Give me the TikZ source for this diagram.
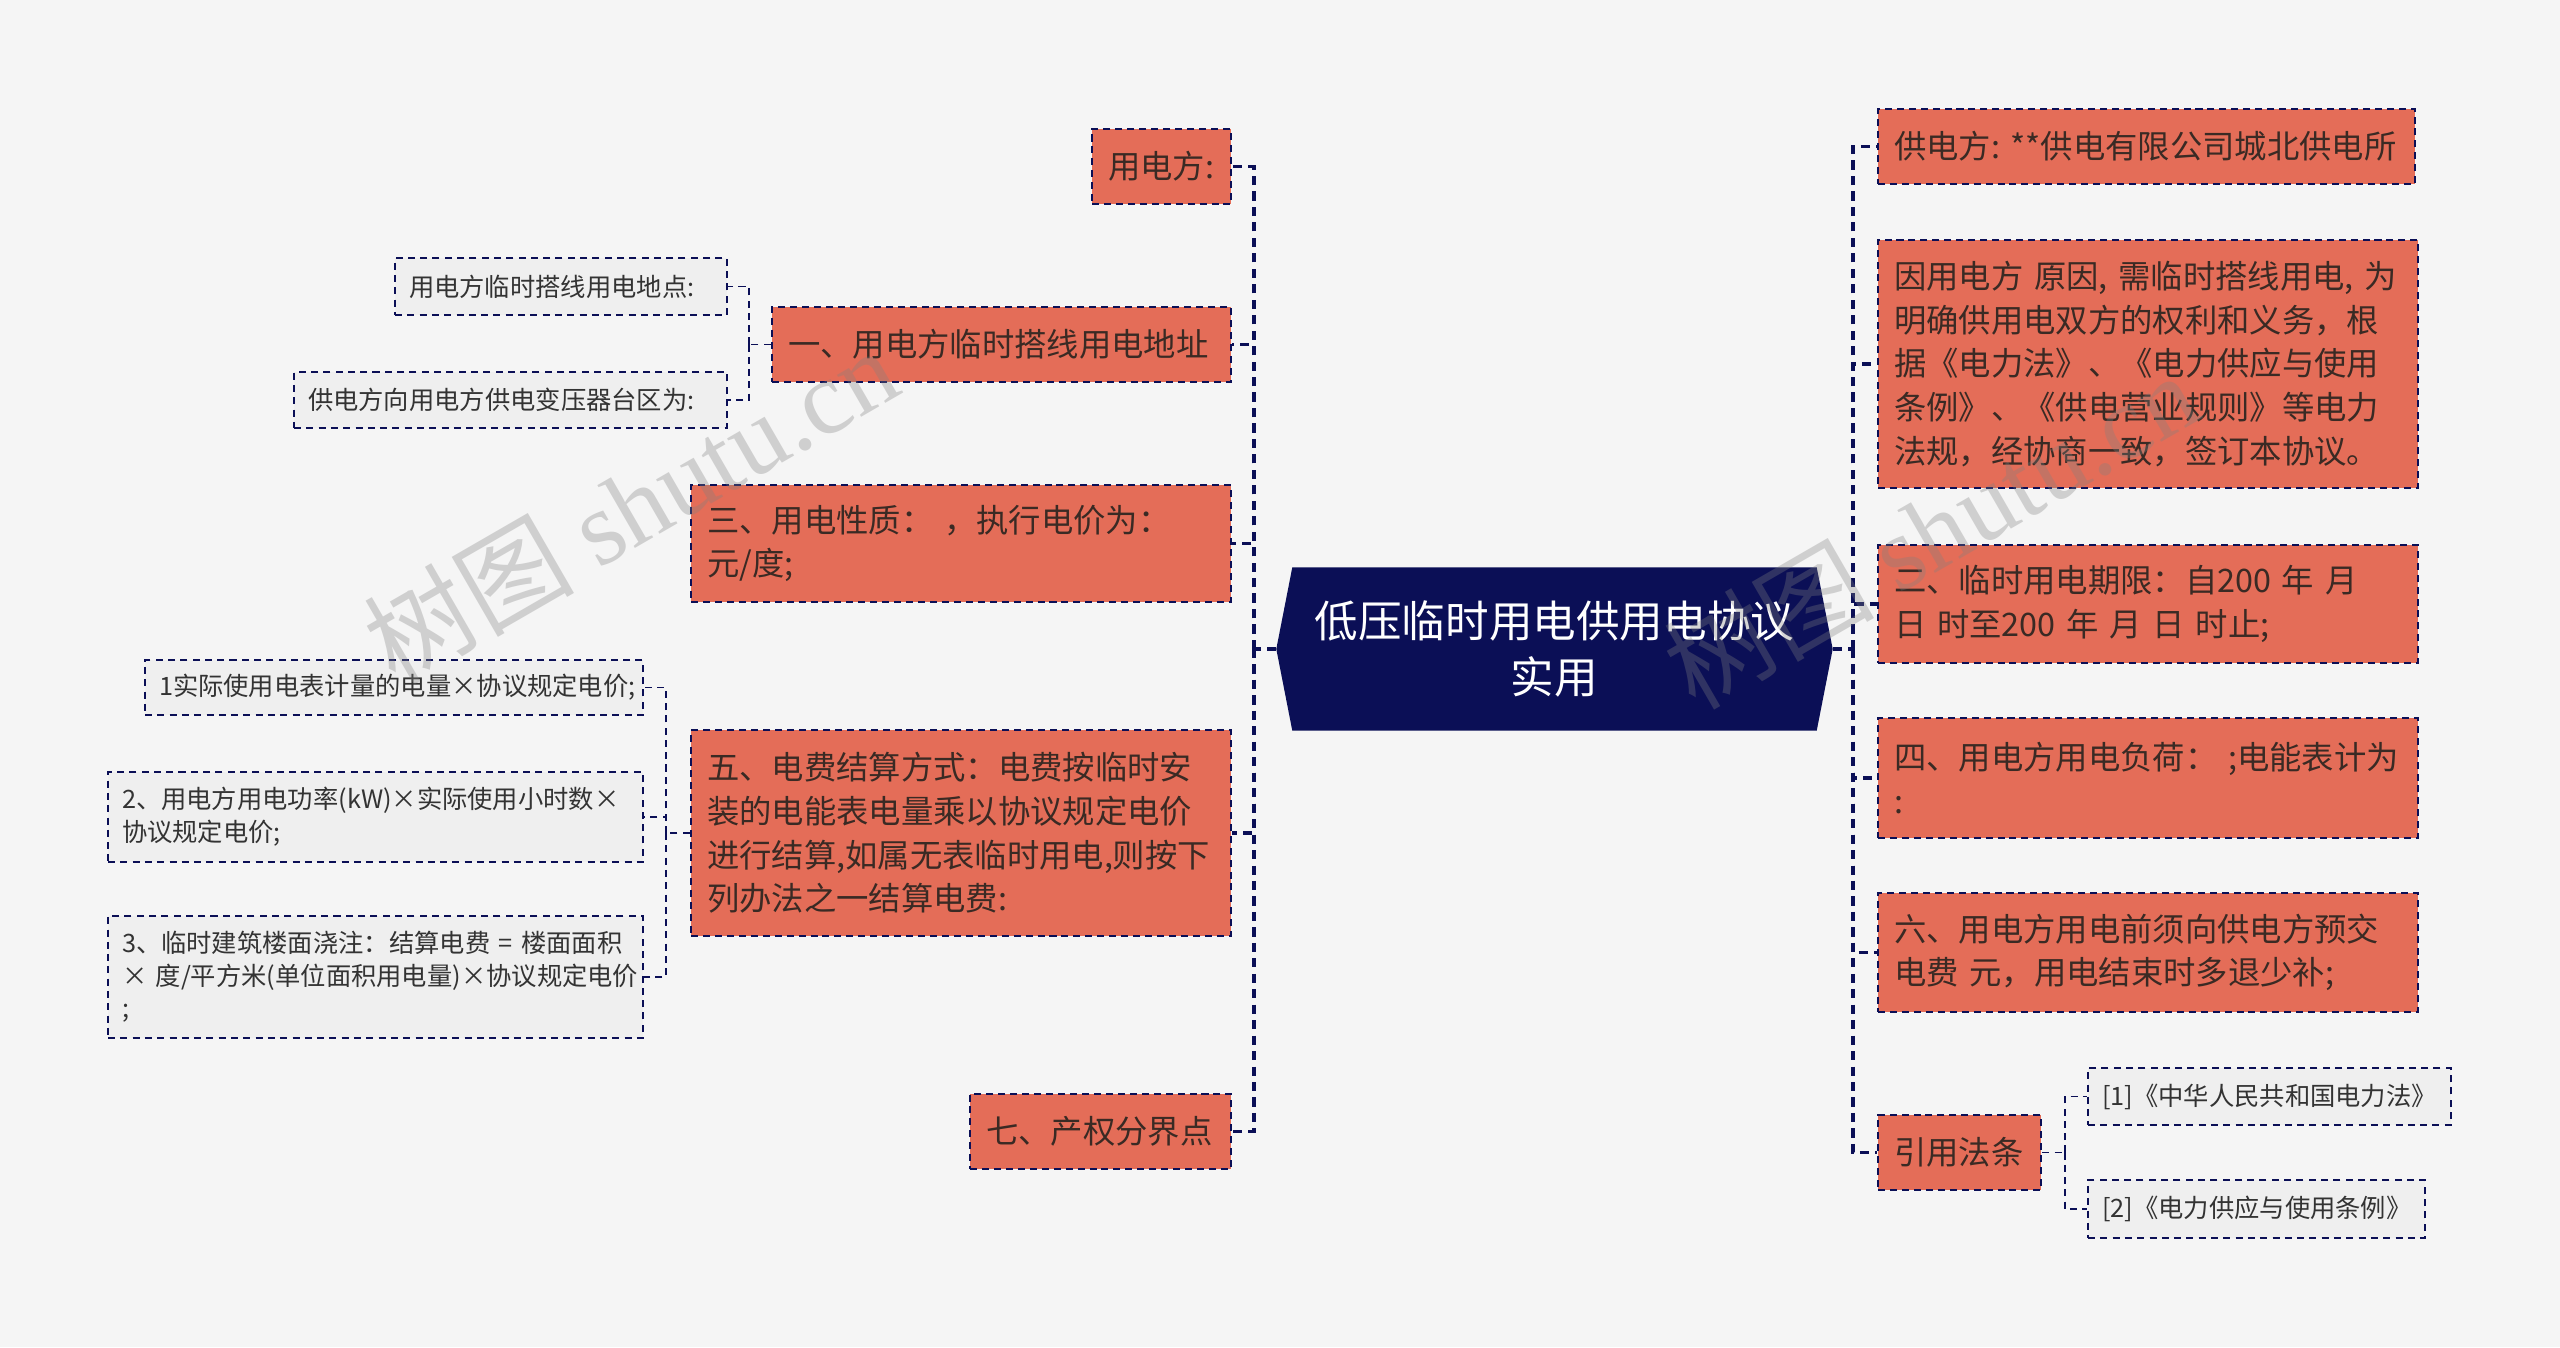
\documentclass[tikz,border=0pt]{standalone}
\usepackage{fontspec}
\setmainfont{Noto Sans CJK SC}
\newfontfamily\wmlatin{Liberation Serif}
\usetikzlibrary{backgrounds}

\definecolor{bgc}{HTML}{F5F5F5}
\definecolor{navy}{HTML}{0B0F56}
\definecolor{coral}{HTML}{E46D58}
\definecolor{leafc}{HTML}{EFEFEF}
\definecolor{ink}{HTML}{3A2A24}

\begin{document}
\begin{tikzpicture}[
  x=1cm, y=1cm,
  root/.style={minimum width=5.55cm, minimum height=1.62cm, inner sep=0pt, align=center, text=white, font=\fontsize{12.4}{15.8}\selectfont},
  topic/.style={draw=navy, line width=0.7pt, dash pattern=on 2pt off 1.4pt, fill=coral, text=ink, align=left, inner xsep=0.16cm, inner ysep=0pt, font=\fontsize{9.2}{12.4}\selectfont},
  leaf/.style={draw=navy, line width=0.55pt, dash pattern=on 2pt off 1.5pt, fill=leafc, text=black!80, align=left, inner xsep=0.14cm, inner ysep=0pt, font=\fontsize{7.2}{9.3}\selectfont},
  link/.style={draw=navy, line width=0.9pt, dash pattern=on 2.6pt off 1.8pt},
  twig/.style={draw=navy, line width=0.55pt, dash pattern=on 2pt off 1.5pt},
  wmark/.style={text=gray, opacity=0.32, rotate=30, font=\fontsize{30}{30}\selectfont}
]

% centre
\node[root] (root) at (15.545, -6.49) {低压临时用电供用电协议\\实用};

% left side
\node[topic, text width=1.07cm, minimum height=0.75cm] (u) at (11.615, -1.665) {用电方:};
\node[topic, text width=4.27cm, minimum height=0.75cm] (a1) at (10.015, -3.445) {一、用电方临时搭线用电地址};
\node[leaf, text width=3.04cm, minimum height=0.57cm] (a1s1) at (5.61, -2.865) {用电方临时搭线用电地点:};
\node[leaf, text width=4.05cm, minimum height=0.56cm] (a1s2) at (5.105, -4.0) {供电方向用电方供电变压器台区为:};
\node[topic, text width=5.08cm, minimum height=1.17cm] (a3) at (9.61, -5.435) {三、用电性质：~，执行电价为：\\元/度;};
\node[topic, text width=5.08cm, minimum height=2.06cm] (a5) at (9.61, -8.33) {五、电费结算方式：电费按临时安\\装的电能表电量乘以协议规定电价\\进行结算,如属无表临时用电,则按下\\列办法之一结算电费:};
\node[leaf, text width=4.70cm, minimum height=0.55cm] (a5s1) at (3.94, -6.875) {1实际使用电表计量的电量×协议规定电价;};
\node[leaf, text width=5.07cm, minimum height=0.90cm] (a5s2) at (3.755, -8.17) {2、用电方用电功率(kW)×实际使用小时数×\\协议规定电价;};
\node[leaf, text width=5.07cm, minimum height=1.22cm] (a5s3) at (3.755, -9.77) {3、临时建筑楼面浇注：结算电费~=~楼面面积\\×~度/平方米(单位面积用电量)×协议规定电价\\;};
\node[topic, text width=2.29cm, minimum height=0.75cm] (a7) at (11.005, -11.315) {七、产权分界点};

% right side
\node[topic, text width=5.05cm, minimum height=0.75cm] (s0) at (21.465, -1.465) {供电方:~**供电有限公司城北供电所};
\node[topic, text width=5.08cm, minimum height=2.48cm] (s1) at (21.48, -3.64) {因用电方~原因,~需临时搭线用电,~为\\明确供用电双方的权利和义务，根\\据《电力法》、《电力供应与使用\\条例》、《供电营业规则》等电力\\法规，经协商一致，签订本协议。};
\node[topic, text width=5.08cm, minimum height=1.18cm] (s2) at (21.48, -6.04) {二、临时用电期限：自200~年~月\\日~时至200~年~月~日~时止;};
\node[topic, text width=5.08cm, minimum height=1.20cm] (s4) at (21.48, -7.78) {四、用电方用电负荷：~;电能表计为\\:};
\node[topic, text width=5.08cm, minimum height=1.19cm] (s6) at (21.48, -9.525) {六、用电方用电前须向供电方预交\\电费~元，用电结束时多退少补;};
\node[topic, text width=1.31cm, minimum height=0.75cm] (law) at (19.595, -11.525) {引用法条};
\node[leaf, text width=3.35cm, minimum height=0.57cm] (law1) at (22.695, -10.965) {[1]《中华人民共和国电力法》};
\node[leaf, text width=3.09cm, minimum height=0.58cm] (law2) at (22.565, -12.09) {[2]《电力供应与使用条例》};

% junctions
\coordinate (lj) at (12.54, -6.49);
\coordinate (rj) at (18.53, -6.49);
\coordinate (a1j) at (7.49, -3.445);
\coordinate (a5j) at (6.66, -8.33);
\coordinate (lawj) at (20.65, -11.525);

\begin{scope}[on background layer]
\fill[bgc] (0, 0) rectangle (25.6, -13.47);
\fill[navy] (root.west) -- ([xshift=0.16cm]root.north west) -- ([xshift=-0.16cm]root.north east) -- (root.east)
  -- ([xshift=-0.16cm]root.south east) -- ([xshift=0.16cm]root.south west) -- cycle;
\end{scope}

\draw[link] (root.west) -- (lj);
\foreach \n in {u, a1, a3, a5, a7} \draw[link] (lj) |- (\n.east);
\draw[link] (root.east) -- (rj);
\foreach \n in {s0, s1, s2, s4, s6, law} \draw[link] (rj) |- (\n.west);

\draw[twig] (a1.west) -- (a1j);
\foreach \n in {a1s1, a1s2} \draw[twig] (a1j) |- (\n.east);
\draw[twig] (a5.west) -- (a5j);
\foreach \n in {a5s1, a5s2, a5s3} \draw[twig] (a5j) |- (\n.east);
\draw[twig] (law.east) -- (lawj);
\foreach \n in {law1, law2} \draw[twig] (lawj) |- (\n.west);

% watermark
\node[wmark] (wm1) at (6.30, -5.05) {树图 {\wmlatin shutu.cn}};
\node[wmark] (wm2) at (19.30, -5.30) {树图 {\wmlatin shutu.cn}};
\end{tikzpicture}
\end{document}
